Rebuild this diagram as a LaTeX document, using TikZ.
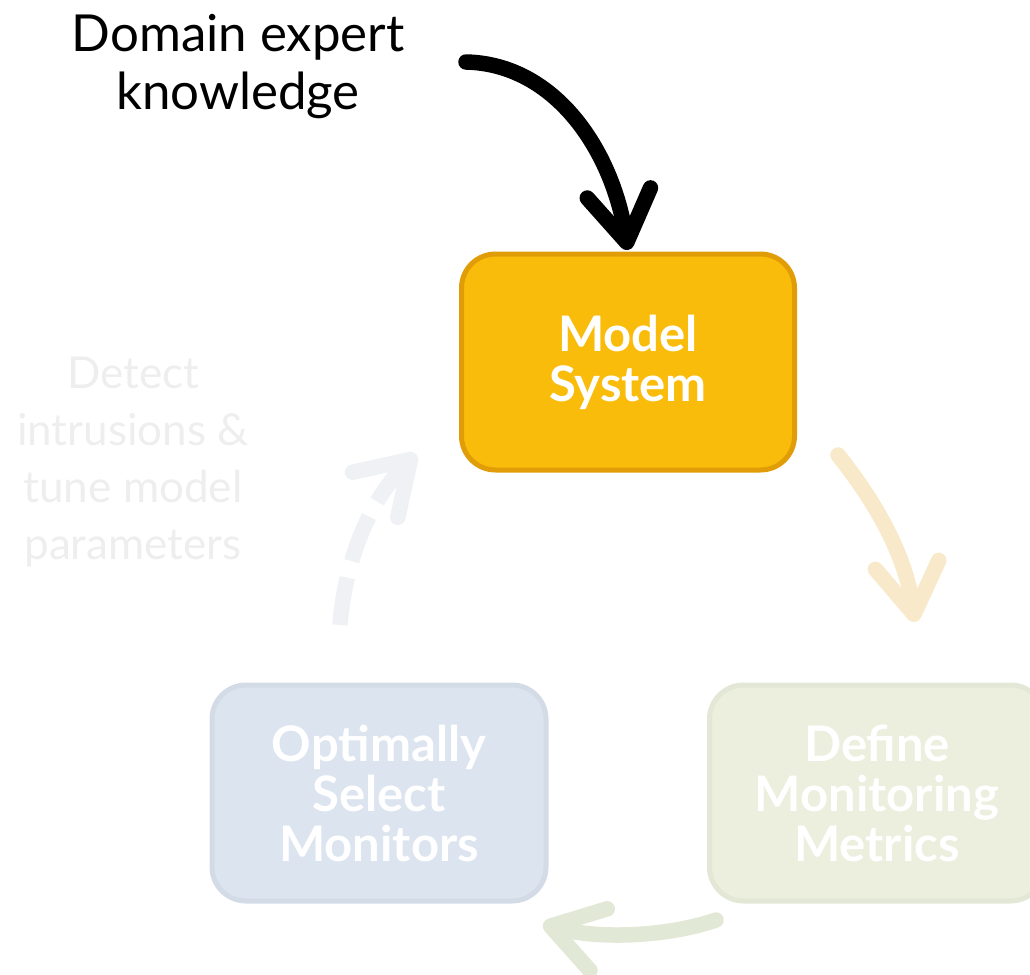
\documentclass[tikz,border=0pt]{standalone}
\usepackage{fontspec}
\setmainfont{Lato}
\usetikzlibrary{arrows.meta}

\definecolor{modelfill}{HTML}{F9BC0A}
\definecolor{modeledge}{HTML}{E19D08}
\definecolor{metricfill}{HTML}{ECEFDE}
\definecolor{metricedge}{HTML}{E3E7D5}
\definecolor{monfill}{HTML}{DCE4F0}
\definecolor{monedge}{HTML}{D3DBE7}
\definecolor{fadedtext}{HTML}{EEEEEE}
\definecolor{orangearrow}{HTML}{F8E9CA}
\definecolor{greenarrow}{HTML}{E2E8D6}
\definecolor{grayarrow}{HTML}{EFF1F4}

\tikzset{
  stagebox/.style={rounded corners=34pt, line width=5pt, minimum width=333pt,
    minimum height=216pt, align=center, text=white,
    font=\fontsize{49}{50}\selectfont\bfseries},
  flowarrow/.style={line width=15.5pt, line cap=round, line join=round,
    -{Straight Barb[round, length=50pt, width=64pt]}},
  caption/.style={align=center, font=\fontsize{51}{58}\selectfont},
}

\begin{document}
\begin{tikzpicture}[x=1pt, y=-1pt]
\useasboundingbox (0,0) rectangle (1030,974);

% the three stages of the cycle
\node[stagebox, fill=modelfill, draw=modeledge] (model) at (628,362) {Model\\System};
\node[stagebox, fill=metricfill, draw=metricedge, minimum width=335pt] (metrics) at (877,793) {Define\\Monitoring\\Metrics};
\node[stagebox, fill=monfill, draw=monedge, minimum width=334pt] (monitors) at (379,793) {Optimally\\Select\\Monitors};

% captions
\node[caption] (expert) at (238,67) {Domain expert\\knowledge};
\node[caption, text=fadedtext, font=\fontsize{44}{57}\selectfont] (detect) at (133,462) {Detect\\intrusions \&\\tune model\\parameters};

% arrow ends
\coordinate (k0) at (466,62);
\coordinate (k1) at (628,250);
\coordinate (o0) at (838,455);
\coordinate (o1) at (915,622);
\coordinate (g0) at (716,920);
\coordinate (g1) at (543,924);
\coordinate (d0) at (340,625);
\coordinate (d1) at (416,454);

\draw[flowarrow, black] (k0) .. controls (555,64) and (612,150) .. (k1);
\draw[flowarrow, orangearrow] (o0) .. controls (870,495) and (905,550) .. (o1);
\draw[flowarrow, greenarrow] (g0) .. controls (670,936) and (600,940) .. (g1);
\draw[flowarrow, grayarrow, line cap=butt, dash pattern=on 48pt off 17pt] (d0) .. controls (345,560) and (370,500) .. (d1);
\end{tikzpicture}
\end{document}
